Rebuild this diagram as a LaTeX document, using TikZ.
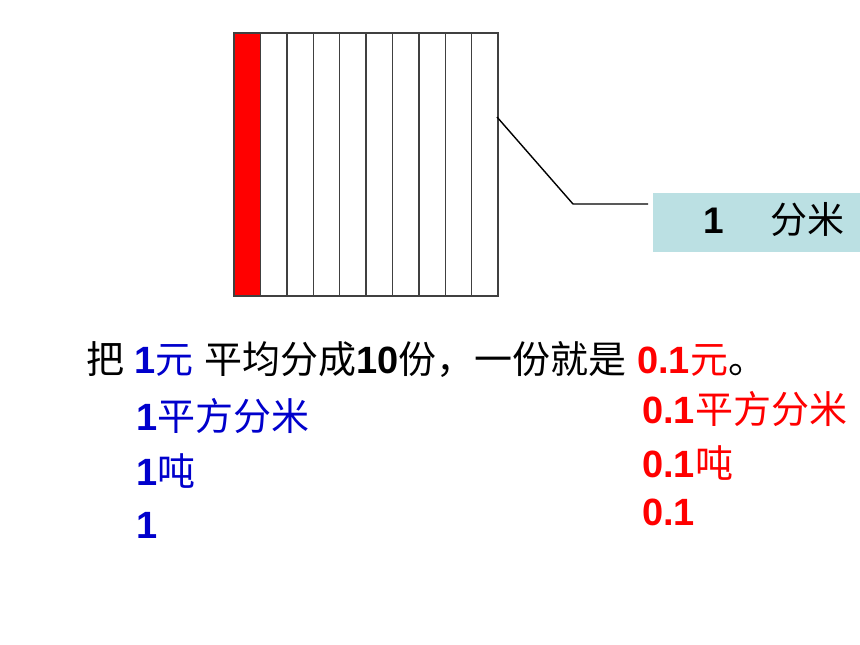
\documentclass[tikz,border=0pt]{standalone}
\usepackage{fontspec}
\setmainfont{Liberation Sans}
\newfontfamily\cjk{Noto Sans CJK SC}
\definecolor{gridgray}{HTML}{404040}
\definecolor{ansblue}{HTML}{0000CC}
\definecolor{ansred}{HTML}{FF0000}
\definecolor{tagteal}{HTML}{BBE0E3}
\newcommand\hz[1]{{\cjk\mdseries #1}}
\newcommand\bigtext{\fontsize{38}{45}\selectfont}

\begin{document}
\begin{tikzpicture}[x=1pt,y=-1pt,
    cell/.style={draw=gridgray, line width=1.4pt},
    txt/.style={anchor=base west, inner sep=0pt, font=\bigtext\bfseries}]
  \useasboundingbox (0,0) rectangle (860,645);
  % square cut into ten strips, the first one red
  \fill [ansred] (234,33) rectangle (260.4,296);
  \foreach \i in {0,...,9}
    \draw [cell] ({234+26.4*\i},33) rectangle ({234+26.4*(\i+1)},296);
  % tag for the side
  \node (dm) [fill=tagteal, anchor=north west, minimum height=59pt, text width=200pt,
    inner xsep=50pt, inner ysep=0pt, text height=26pt, text depth=5pt, align=left,
    font=\fontsize{37}{44}\selectfont] at (653,193) {{\bfseries 1}\hspace{1.25em}\hz{分米}};
  \coordinate (tip) at (497,117);
  \coordinate (bend) at (573,204);
  \draw [line width=1.4pt, shorten >=5pt] (tip) -- (bend) -- (dm.west |- bend);
  % sentence
  \node (l1) [txt] at (86,373) {\hz{把} {\color{ansblue}1\hz{元}} \hz{平均分成}10\hz{份，一份就是} {\color{ansred}0.1\hz{元}}\hz{。}};
  \node (b2) [txt, ansblue] at (136,430) {1\hz{平方分米}};
  \node (b3) [txt, ansblue] at (136,485) {1\hz{吨}};
  \node (b4) [txt, ansblue] at (136,538) {1};
  \node (r2) [txt, ansred] at (642,423) {0.1\hz{平方分米}};
  \node (r3) [txt, ansred] at (642,477) {0.1\hz{吨}};
  \node (r4) [txt, ansred] at (642,525) {0.1};
\end{tikzpicture}
\end{document}
